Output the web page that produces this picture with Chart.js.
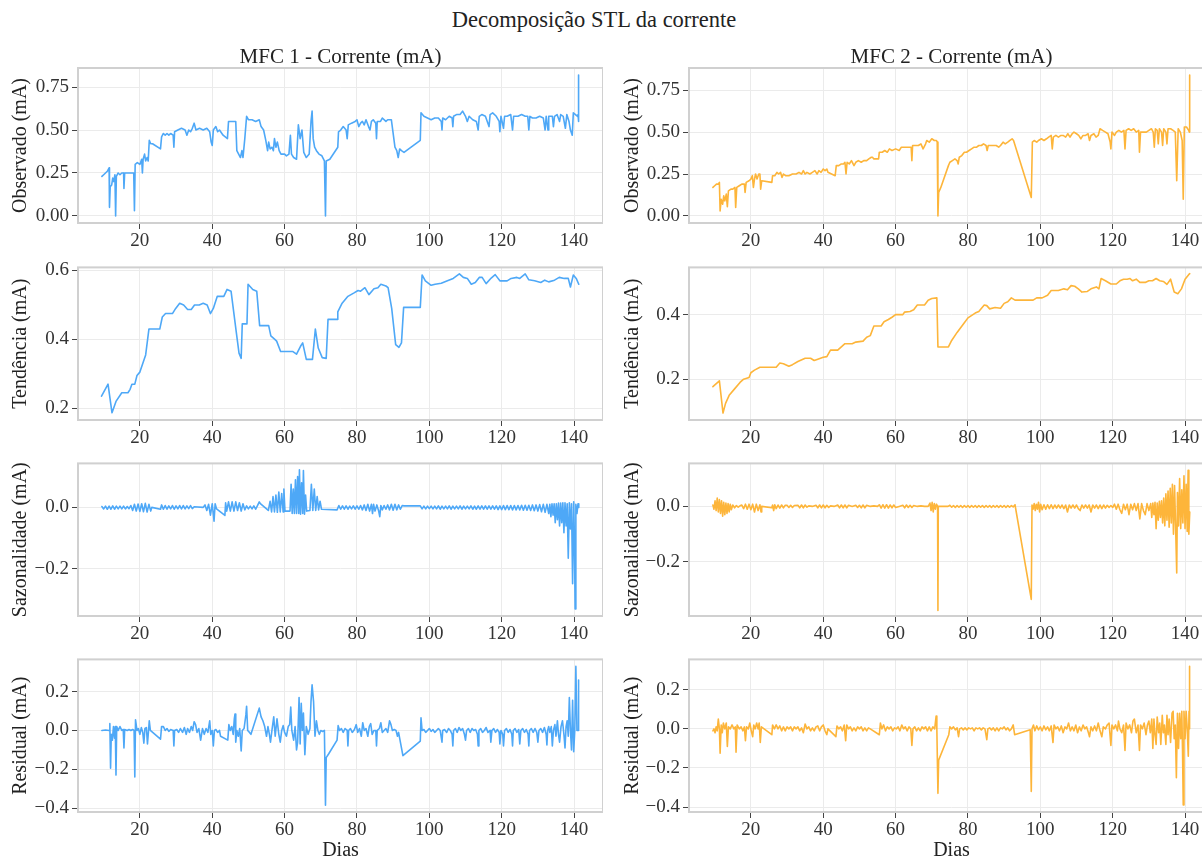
<!DOCTYPE html>
<html><head><meta charset="utf-8">
<script src="https://cdn.jsdelivr.net/npm/chart.js@4/dist/chart.umd.min.js"></script>
<style>
html,body{margin:0;padding:0;background:#fff;overflow:hidden;width:1202px;height:857px;position:relative}
#sup{position:absolute;left:0;top:7px;width:1188px;text-align:center;font-family:"Liberation Serif","Times New Roman",serif;font-size:22.5px;line-height:26px;color:#222}
</style></head><body>
<div id="sup">Decomposição STL da corrente</div>
<script>
// ---------------- DATA ----------------
const xTicks = [20, 40, 60, 80, 100, 120, 140];
const obsTicks = [0, 0.25, 0.5, 0.75];           const obsLabels = ['0.00', '0.25', '0.50', '0.75'];
const trend1Ticks = [0.2, 0.4, 0.6];              const trend1Labels = ['0.2', '0.4', '0.6'];
const trend2Ticks = [0.2, 0.4];                   const trend2Labels = ['0.2', '0.4'];
const seasTicks = [-0.2, 0.0];                    const seasLabels = ['\u22120.2', '0.0'];
const residTicks = [-0.4, -0.2, 0.0, 0.2];        const residLabels = ['\u22120.4', '\u22120.2', '0.0', '0.2'];
const panelTitles = ['MFC 1 - Corrente (mA)', 'MFC 2 - Corrente (mA)'];
const yTitles = ['Observado (mA)', 'Tendência (mA)', 'Sazonalidade (mA)', 'Residual (mA)'];
const xTitle = 'Dias';

// MFC 1 - observed [dia, mA]
const mfc1Obs = [[9.5,0.23],[10,0.24],[10.5,0.25],[11,0.26],[11.5,0.28],[11.6,0.05],[11.8,0.17],[12.2,0.18],[12.5,0.22],[12.8,0.20],[13.1,0.24],[13.3,0.0],[13.5,0.23],[14,0.25],[14.5,0.24],[15,0.25],[15.5,0.25],[15.6,0.16],[15.8,0.25],[16.5,0.25],[17.5,0.25],[18.3,0.25],[18.5,0.03],[18.7,0.30],[19.3,0.31],[20,0.30],[20.5,0.33],[20.7,0.25],[20.9,0.33],[21.3,0.36],[21.6,0.32],[22,0.34],[22.3,0.32],[22.6,0.44],[23,0.42],[23.5,0.42],[25.7,0.39],[26,0.46],[26.5,0.48],[27,0.47],[27.5,0.48],[28,0.47],[28.5,0.48],[29.2,0.47],[29.4,0.40],[29.6,0.49],[30.5,0.50],[31.5,0.51],[32.5,0.50],[33,0.47],[33.5,0.50],[34,0.49],[34.5,0.51],[35,0.54],[35.5,0.50],[36.5,0.51],[37.5,0.50],[38.5,0.51],[39.3,0.49],[39.7,0.43],[40,0.41],[40.3,0.50],[41,0.52],[41.5,0.49],[42,0.50],[43,0.47],[44.2,0.45],[44.5,0.55],[45.5,0.55],[46.5,0.55],[46.8,0.38],[47.3,0.36],[47.8,0.34],[48.2,0.38],[48.5,0.34],[49,0.45],[49.5,0.58],[50,0.56],[51,0.56],[52,0.55],[53,0.56],[53.5,0.52],[54.2,0.50],[54.8,0.44],[55.3,0.38],[55.6,0.43],[56,0.39],[56.5,0.40],[56.9,0.38],[57.2,0.45],[57.6,0.40],[58,0.43],[58.5,0.38],[59,0.36],[60,0.36],[60.5,0.35],[61.2,0.36],[61.6,0.47],[61.9,0.36],[62.5,0.34],[63.3,0.33],[63.8,0.53],[64.3,0.45],[64.8,0.50],[65.3,0.37],[66,0.34],[66.8,0.36],[67.3,0.55],[67.6,0.61],[67.9,0.45],[68.3,0.40],[68.8,0.38],[69.5,0.36],[70.3,0.35],[71,0.32],[71.3,0.0],[71.5,0.32],[72.5,0.33],[74.7,0.40],[74.9,0.49],[75.5,0.50],[76.2,0.52],[77,0.50],[77.3,0.45],[77.6,0.53],[78.5,0.54],[79.5,0.55],[80,0.56],[80.5,0.52],[81,0.54],[81.5,0.55],[82,0.53],[82.5,0.56],[83.2,0.52],[83.6,0.50],[84,0.55],[84.5,0.56],[85.2,0.54],[85.4,0.45],[85.6,0.55],[86.5,0.55],[87,0.57],[88,0.55],[88.5,0.56],[89.5,0.56],[90,0.48],[90.5,0.40],[91,0.38],[91.4,0.34],[91.8,0.39],[92.3,0.38],[93,0.37],[97.5,0.44],[97.7,0.60],[98.5,0.58],[99.5,0.57],[100.5,0.56],[101.5,0.57],[102.5,0.57],[103.3,0.55],[103.5,0.50],[103.7,0.57],[104.5,0.56],[105.5,0.58],[106.3,0.57],[106.5,0.52],[106.7,0.58],[107.5,0.59],[108.5,0.59],[109.2,0.61],[110,0.58],[110.5,0.55],[111,0.58],[112,0.56],[113,0.55],[113.5,0.50],[113.8,0.58],[114.5,0.59],[115.5,0.58],[116.5,0.52],[116.8,0.59],[117.5,0.60],[118.5,0.58],[119.3,0.55],[119.5,0.49],[119.8,0.58],[120.5,0.51],[120.8,0.58],[121.5,0.58],[122.5,0.59],[123,0.50],[123.3,0.58],[124.5,0.58],[125.5,0.59],[126.5,0.58],[127.2,0.58],[127.5,0.50],[127.8,0.58],[128.5,0.57],[129.5,0.57],[130.5,0.58],[131.5,0.57],[132,0.50],[132.3,0.58],[132.8,0.50],[133,0.58],[134,0.58],[134.3,0.52],[134.6,0.58],[135.3,0.59],[136,0.55],[136.3,0.59],[137,0.58],[137.6,0.51],[138,0.59],[138.6,0.55],[139,0.50],[139.5,0.47],[139.8,0.60],[140.4,0.59],[140.9,0.58],[141.1,0.59],[141.2,0.82],[141.3,0.55]];

// MFC 1 - trend
const mfc1Trend = [[9.4,0.235],[11.2,0.27],[12.3,0.187],[13.4,0.22],[15,0.245],[16.7,0.245],[17.3,0.255],[17.8,0.27],[18.6,0.27],[19.2,0.295],[20,0.305],[20.8,0.33],[21.6,0.355],[22.5,0.43],[25.5,0.43],[26.2,0.465],[27.1,0.475],[28,0.475],[29,0.475],[29.9,0.49],[31,0.505],[32.1,0.50],[33.2,0.487],[34.2,0.487],[35.1,0.50],[36.4,0.50],[37.5,0.505],[38.6,0.50],[39.5,0.475],[40.3,0.49],[41.4,0.525],[43.2,0.525],[44.1,0.545],[45.2,0.54],[46.6,0.425],[47.4,0.36],[48,0.345],[48.3,0.445],[49.6,0.445],[49.9,0.56],[51.2,0.545],[52.3,0.54],[53.1,0.44],[55.6,0.44],[56.2,0.41],[57.3,0.40],[57.8,0.395],[58.9,0.365],[62.2,0.365],[63.3,0.357],[64.4,0.38],[65,0.39],[66,0.342],[67.7,0.342],[68.5,0.43],[69.3,0.375],[70.4,0.347],[71.5,0.345],[72,0.458],[74.5,0.458],[74.7,0.48],[75.9,0.505],[77.5,0.525],[79.2,0.535],[80.3,0.542],[81,0.54],[82.2,0.55],[83.3,0.53],[84.7,0.547],[85.8,0.55],[86.6,0.56],[88,0.555],[88.6,0.55],[89.6,0.49],[90.7,0.385],[91.6,0.377],[92.3,0.39],[92.9,0.493],[97.5,0.493],[98,0.587],[98.9,0.57],[100.5,0.557],[101.6,0.56],[103.3,0.563],[105,0.57],[106.6,0.577],[108.3,0.59],[109.4,0.58],[110.5,0.577],[111.6,0.56],[112.7,0.565],[113.8,0.58],[114.6,0.58],[115.7,0.562],[117.1,0.578],[118.2,0.588],[119.5,0.57],[121.5,0.57],[122.6,0.577],[124.2,0.58],[125,0.577],[126.5,0.59],[127.5,0.573],[129.1,0.57],[130.8,0.565],[131.9,0.572],[133,0.567],[134.6,0.572],[135.9,0.58],[137.3,0.577],[138.4,0.577],[139,0.552],[139.8,0.587],[140.6,0.577],[141.3,0.56]];

// MFC 1 - seasonal
const mfc1Seas = [[9.5,0.003],[10,-0.005],[10.5,0.004],[11,-0.006],[11.5,0.004],[12,-0.006],[12.5,0.005],[13,-0.006],[13.5,0.004],[14,-0.005],[14.5,0.004],[15,-0.005],[15.5,0.004],[16,-0.005],[16.5,0.003],[17,-0.004],[17.5,0.006],[18,-0.010],[18.5,0.010],[19,-0.012],[19.5,0.011],[20,-0.013],[20.5,0.012],[21,-0.014],[21.5,0.013],[22,-0.015],[22.5,0.010],[23,-0.012],[23.3,0.0],[25.7,-0.006],[26,0.008],[26.5,-0.006],[27,0.006],[27.5,-0.006],[28,0.005],[28.5,-0.005],[29,0.006],[29.5,-0.006],[30,0.005],[30.5,-0.005],[31,0.006],[31.5,-0.005],[32,0.006],[32.5,-0.005],[33,0.005],[33.5,-0.004],[34,0.006],[34.5,-0.004],[35,0.002],[37.5,0.0],[38,0.008],[38.5,-0.010],[39,0.010],[39.5,-0.025],[40,0.012],[40.5,-0.045],[40.8,0.012],[41.2,-0.005],[43.5,-0.026],[43.7,0.015],[44,-0.012],[44.5,0.018],[45,-0.012],[45.5,0.018],[46,-0.012],[46.5,0.018],[47,-0.010],[47.5,0.015],[48,-0.012],[48.5,0.012],[49,-0.008],[49.5,0.005],[50,-0.005],[50.5,0.004],[51,-0.005],[51.5,0.005],[52,-0.006],[52.5,0.006],[53,0.018],[53.3,0.012],[55.5,-0.010],[56,0.02],[56.4,-0.015],[56.8,0.035],[57.2,-0.015],[57.6,0.04],[58,-0.016],[58.4,0.05],[58.8,-0.015],[59.2,0.045],[59.6,-0.015],[59.8,0.06],[60.1,-0.012],[61.5,-0.012],[61.8,0.075],[62.1,-0.02],[62.4,0.06],[62.7,-0.02],[63,0.09],[63.3,-0.02],[63.6,0.10],[63.9,-0.02],[64.1,0.122],[64.4,-0.022],[64.7,0.08],[65,-0.02],[65.2,0.12],[65.5,-0.022],[65.8,0.04],[66.1,-0.012],[67,-0.01],[67.4,0.075],[67.8,-0.01],[68.2,0.06],[68.6,-0.01],[69,0.035],[69.4,-0.008],[69.8,0.02],[70.2,-0.006],[74.5,-0.008],[75,0.006],[75.5,-0.006],[76,0.005],[76.5,-0.006],[77,0.005],[77.5,-0.006],[78,0.004],[78.5,-0.005],[79,0.005],[79.5,-0.006],[80,0.005],[80.5,-0.006],[81,0.006],[81.5,-0.008],[82,0.008],[82.5,-0.010],[83,0.010],[83.5,-0.012],[84,0.010],[84.3,-0.02],[84.6,0.010],[85,-0.012],[85.5,0.008],[86,-0.012],[86.3,-0.03],[86.6,0.006],[87,-0.008],[87.5,0.006],[88,-0.006],[88.5,0.008],[89,-0.008],[89.5,0.01],[90,-0.009],[90.5,0.01],[91,-0.008],[91.5,0.008],[92,-0.006],[92.5,0.006],[93,0.005],[97.5,0.005],[98,-0.005],[98.5,0.004],[99,-0.005],[99.5,0.004],[100,-0.004],[100.5,0.004],[101,-0.005],[101.5,0.004],[102,-0.005],[102.5,0.005],[103,-0.006],[103.5,0.004],[104,-0.005],[104.5,0.004],[105,-0.005],[105.5,0.005],[106,-0.006],[106.5,0.004],[107,-0.005],[107.5,0.004],[108,-0.005],[108.5,0.005],[109,-0.006],[109.5,0.004],[110,-0.005],[110.5,0.004],[111,-0.005],[111.5,0.005],[112,-0.006],[112.5,0.004],[113,-0.006],[113.5,0.005],[114,-0.006],[114.5,0.005],[115,-0.006],[115.5,0.005],[116,-0.006],[116.5,0.005],[117,-0.006],[117.5,0.005],[118,-0.006],[118.5,0.005],[119,-0.007],[119.5,0.005],[120,-0.007],[120.5,0.006],[121,-0.007],[121.5,0.006],[122,-0.007],[122.5,0.006],[123,-0.008],[123.5,0.006],[124,-0.008],[124.5,0.006],[125,-0.008],[125.5,0.007],[126,-0.009],[126.5,0.007],[127,-0.009],[127.5,0.007],[128,-0.01],[128.5,0.008],[129,-0.011],[129.5,0.008],[130,-0.012],[130.5,0.009],[131,-0.014],[131.5,0.01],[132,-0.016],[132.5,0.01],[133,-0.02],[133.3,0.01],[133.6,-0.03],[133.9,0.012],[134.2,-0.025],[134.5,0.012],[134.8,-0.05],[135.1,0.012],[135.4,-0.04],[135.7,0.014],[136,-0.06],[136.3,0.014],[136.6,-0.05],[136.9,0.015],[137.2,-0.082],[137.5,0.015],[137.8,-0.06],[138.1,0.012],[138.4,-0.165],[138.7,0.015],[139,-0.07],[139.3,0.012],[139.6,-0.248],[139.9,0.018],[140.1,-0.1],[140.3,-0.33],[140.5,0.01],[140.8,-0.02],[141.1,0.012],[141.3,0.0]];

// MFC 1 - residual
const mfc1Resid = [[9.5,0],[10.5,0.002],[11.5,0],[11.7,0.035],[11.9,-0.195],[12.1,-0.02],[12.4,-0.05],[12.7,0.02],[13,-0.04],[13.2,0.02],[13.4,-0.23],[13.6,0.02],[14,0.0],[14.5,0.02],[15,0.0],[15.4,0.005],[15.6,-0.09],[15.8,0.005],[16.5,0.0],[17,0.005],[17.5,0.0],[18,0.005],[18.4,0.0],[18.6,-0.24],[18.8,0.055],[19.2,0.0],[19.6,0.01],[20,-0.02],[20.4,0.015],[20.8,-0.01],[21.1,-0.065],[21.4,0.01],[21.8,0.015],[22.1,-0.07],[22.4,0.0],[22.6,0.05],[22.9,0.0],[25.7,-0.045],[26,0.02],[26.5,0.02],[27,0.0],[27.5,0.01],[28,-0.005],[28.5,0.005],[29.2,0.0],[29.4,-0.08],[29.6,0.0],[30.2,0.005],[30.7,-0.01],[31.2,0.01],[31.8,-0.01],[32.3,0.015],[32.8,-0.02],[33.2,0.01],[33.7,-0.01],[34.2,0.02],[34.6,0.0],[35,0.045],[35.4,0.03],[35.8,-0.01],[36.3,0.01],[36.8,-0.05],[37.3,0.01],[37.8,-0.02],[38.3,0.01],[38.8,-0.01],[39.3,0.05],[39.6,-0.02],[40,0.0],[40.3,-0.08],[40.6,0.0],[41,0.005],[41.5,-0.01],[42,0.0],[42.3,-0.03],[44.3,-0.05],[44.6,0.03],[45,0.0],[45.4,0.02],[45.8,-0.02],[46.1,0.06],[46.3,0.085],[46.5,-0.06],[46.8,0.0],[47.2,-0.03],[47.6,0.01],[48,-0.105],[48.3,0.0],[48.8,0.01],[49.3,0.08],[49.5,0.125],[49.8,0.0],[50.3,-0.01],[50.7,-0.02],[53,0.115],[53.5,0.07],[54,0.05],[54.5,0.02],[55,-0.03],[55.4,0.02],[55.8,-0.02],[56.1,-0.06],[56.5,0.0],[57,0.07],[57.4,-0.03],[57.9,0.06],[58.4,-0.02],[58.8,-0.06],[59.2,0.0],[59.6,0.025],[60,-0.01],[60.5,-0.03],[61,0.02],[61.4,0.03],[61.7,0.12],[62,0.0],[62.5,-0.05],[62.9,0.02],[63.3,-0.1],[63.6,-0.06],[64,0.17],[64.3,-0.07],[64.6,0.14],[64.9,0.0],[65.2,0.09],[65.6,-0.125],[66,0.02],[66.5,-0.02],[67,0.01],[67.3,0.15],[67.6,0.235],[68,0.15],[68.4,-0.03],[68.8,0.05],[69.2,0.0],[69.6,-0.02],[70,0.0],[70.5,-0.005],[71,0.0],[71.3,-0.385],[71.5,-0.14],[72.2,-0.12],[74.5,-0.05],[74.8,0.025],[75.2,0.0],[75.7,0.01],[76.2,-0.01],[76.7,0.01],[77.3,0.0],[77.5,-0.08],[77.7,0.0],[78.2,0.01],[78.7,-0.01],[79.3,0.005],[79.8,0.03],[80.2,-0.01],[80.7,0.01],[81.2,-0.03],[81.6,0.04],[82,0.0],[82.5,0.01],[83,-0.03],[83.4,0.02],[83.8,0.035],[84.2,-0.02],[84.7,0.0],[85.2,0.0],[85.4,-0.08],[85.6,0.0],[86.2,0.01],[86.6,0.04],[87,-0.01],[87.5,0.0],[88,0.01],[88.5,-0.01],[89,0.05],[89.4,0.03],[89.8,0.0],[90.3,0.005],[90.8,0.0],[91.2,-0.03],[91.5,-0.01],[92.7,-0.13],[97.5,-0.055],[97.7,0.065],[98,0.0],[98.5,0.005],[99,-0.01],[99.5,0.0],[100,0.01],[100.5,-0.005],[101,0.005],[101.5,-0.01],[102,0.0],[102.5,0.01],[103,0.0],[103.5,-0.06],[103.7,0.0],[104.2,0.005],[104.8,-0.01],[105.3,0.01],[105.8,0.0],[106.3,-0.02],[106.5,-0.08],[106.7,0.0],[107.2,0.01],[107.7,-0.01],[108.2,0.015],[108.7,0.0],[109.2,0.01],[109.7,-0.02],[110,-0.05],[110.3,0.0],[110.8,0.01],[111.3,-0.01],[111.8,0.01],[112.3,0.0],[112.8,0.005],[113.3,-0.02],[113.5,-0.08],[113.7,0.0],[114.2,0.01],[114.7,-0.01],[115.2,0.0],[115.7,0.015],[116.2,-0.01],[116.8,0.0],[117,-0.06],[117.3,0.0],[117.8,0.01],[118.3,-0.01],[118.8,0.005],[119.3,-0.01],[119.5,-0.07],[119.8,0.0],[120.3,-0.02],[120.5,-0.08],[120.8,0.0],[121.3,0.01],[121.8,-0.01],[122.3,0.005],[122.8,-0.02],[123,-0.08],[123.2,0.0],[123.7,0.01],[124.2,-0.01],[124.7,0.005],[125,-0.07],[125.3,0.0],[125.8,0.01],[126.3,-0.01],[126.8,0.005],[127.3,-0.02],[127.5,-0.08],[127.7,0.0],[128.2,0.01],[128.7,-0.01],[129.2,0.01],[129.7,-0.01],[130,-0.06],[130.3,0.0],[130.8,0.01],[131.3,-0.01],[131.8,0.015],[132.3,-0.02],[132.5,-0.075],[132.7,0.0],[133,0.02],[133.3,-0.01],[133.7,0.02],[134,-0.08],[134.3,0.0],[134.7,0.03],[135,-0.03],[135.4,0.05],[135.7,-0.02],[136,-0.06],[136.4,0.02],[136.8,0.05],[137.2,-0.02],[137.5,-0.09],[137.8,0.02],[138.1,0.05],[138.4,-0.03],[138.7,0.17],[139,0.0],[139.3,-0.1],[139.6,0.155],[139.9,-0.11],[140.2,0.0],[140.5,0.33],[140.8,0.0],[141.1,0.0],[141.2,0.26],[141.3,0.0]];

// MFC 2 - observed
const mfc2Obs = [[9.5,0.17],[10,0.18],[10.5,0.19],[11,0.19],[11.3,0.20],[11.5,0.03],[11.8,0.10],[12.2,0.07],[12.5,0.12],[12.8,0.09],[13.2,0.13],[13.5,0.055],[13.8,0.15],[14.5,0.16],[15,0.16],[15.6,0.17],[15.8,0.05],[16.1,0.17],[16.8,0.18],[17.5,0.19],[18.2,0.19],[18.4,0.14],[18.7,0.20],[19.5,0.21],[20,0.22],[20.4,0.24],[20.7,0.17],[21,0.22],[21.3,0.25],[21.7,0.22],[22.2,0.25],[22.5,0.25],[22.7,0.16],[23,0.21],[25.8,0.20],[26,0.24],[26.6,0.24],[27.2,0.26],[27.7,0.25],[28.2,0.26],[28.6,0.23],[29,0.25],[29.6,0.24],[30.5,0.24],[31.5,0.25],[32.5,0.25],[33.3,0.26],[34,0.25],[34.5,0.27],[35,0.25],[35.5,0.26],[36.3,0.25],[37,0.26],[37.7,0.27],[38.3,0.25],[38.8,0.27],[39.4,0.26],[40,0.28],[40.5,0.27],[41,0.28],[41.3,0.26],[43.3,0.24],[43.6,0.30],[44.3,0.30],[45,0.31],[45.6,0.31],[46,0.32],[46.3,0.25],[46.6,0.32],[47.2,0.31],[47.8,0.33],[48.5,0.30],[49,0.32],[49.7,0.33],[50.5,0.32],[51.2,0.33],[52,0.33],[52.6,0.34],[53.3,0.35],[53.6,0.35],[54,0.34],[55.3,0.34],[55.5,0.38],[56.3,0.38],[57,0.39],[57.7,0.38],[58.3,0.40],[59,0.39],[60,0.40],[61,0.39],[61.6,0.41],[62.5,0.41],[63.5,0.41],[64.3,0.41],[64.5,0.33],[64.7,0.42],[65.5,0.42],[66.3,0.42],[67,0.43],[67.6,0.40],[68.3,0.43],[68.6,0.45],[69.3,0.44],[70,0.46],[70.7,0.45],[71.3,0.45],[71.5,0.44],[71.7,0.0],[71.9,0.14],[72.5,0.17],[74.6,0.30],[75,0.32],[75.7,0.33],[76.4,0.34],[77,0.33],[77.3,0.31],[77.6,0.35],[78.3,0.36],[79,0.38],[79.6,0.38],[80.3,0.39],[81,0.40],[81.7,0.41],[82.4,0.41],[83,0.42],[83.7,0.42],[84.3,0.43],[85,0.42],[85.3,0.39],[85.6,0.42],[86.3,0.42],[87,0.42],[87.8,0.42],[88.5,0.41],[89,0.42],[89.7,0.44],[90.3,0.43],[91,0.44],[91.6,0.45],[92.2,0.46],[92.6,0.45],[97.5,0.11],[97.8,0.44],[98.3,0.45],[99,0.44],[99.5,0.45],[100.3,0.46],[101,0.45],[101.7,0.46],[102.3,0.47],[103,0.48],[103.3,0.40],[103.6,0.47],[104.3,0.48],[105,0.47],[105.7,0.48],[106.3,0.48],[107,0.47],[107.6,0.49],[108.2,0.47],[108.8,0.49],[109.3,0.50],[110,0.49],[110.6,0.48],[111.2,0.46],[111.8,0.48],[112.5,0.48],[113.2,0.49],[113.6,0.45],[114,0.48],[114.8,0.49],[115.4,0.47],[116,0.48],[116.5,0.52],[117.2,0.51],[118,0.50],[118.7,0.49],[119.3,0.44],[119.5,0.40],[119.8,0.50],[120.5,0.48],[121,0.50],[121.7,0.51],[122.4,0.50],[123.1,0.51],[123.4,0.40],[123.7,0.51],[124.4,0.52],[125.1,0.51],[125.8,0.52],[126.5,0.50],[127.2,0.51],[127.4,0.38],[127.7,0.50],[128.5,0.50],[129.3,0.50],[130,0.51],[130.7,0.52],[131.2,0.50],[131.5,0.41],[131.8,0.52],[132.3,0.51],[132.6,0.43],[132.9,0.52],[133.5,0.50],[133.8,0.42],[134.1,0.52],[134.7,0.50],[135,0.43],[135.3,0.52],[136,0.52],[136.7,0.51],[137.3,0.50],[137.7,0.21],[138.1,0.52],[138.7,0.50],[139.2,0.45],[139.5,0.10],[139.8,0.53],[140.4,0.53],[141,0.51],[141.2,0.50],[141.25,0.84],[141.3,0.50]];

// MFC 2 - trend
const mfc2Trend = [[9.5,0.177],[11.3,0.195],[12.3,0.095],[13,0.125],[14,0.15],[15.5,0.17],[17,0.19],[18,0.20],[19.5,0.205],[20,0.22],[21,0.228],[22.5,0.237],[27,0.237],[28,0.25],[29,0.248],[30.5,0.24],[31.5,0.245],[33,0.255],[35,0.265],[36.5,0.265],[37.5,0.258],[38.5,0.262],[40,0.268],[41,0.27],[42,0.29],[44,0.29],[45,0.30],[46,0.31],[48,0.31],[49,0.315],[51,0.318],[52,0.33],[53,0.335],[54,0.365],[56,0.365],[56.8,0.378],[58,0.385],[59,0.392],[60,0.40],[62,0.40],[62.5,0.408],[64,0.41],[65,0.415],[66,0.43],[68,0.43],[69,0.445],[70,0.45],[71.4,0.452],[71.7,0.30],[74.6,0.30],[75.5,0.32],[77,0.345],[79,0.375],[80,0.39],[82,0.405],[83,0.41],[84.5,0.43],[85.2,0.428],[86,0.418],[87.5,0.422],[89,0.42],[90,0.435],[91,0.44],[92,0.452],[93,0.445],[98,0.445],[99,0.452],[100.5,0.452],[102,0.46],[103,0.475],[105,0.475],[106.5,0.48],[107.5,0.477],[108.5,0.49],[109.5,0.488],[110.5,0.48],[111.5,0.47],[113,0.472],[114,0.48],[115.5,0.486],[116.2,0.48],[116.8,0.512],[118,0.505],[119.5,0.495],[121,0.495],[122,0.505],[123,0.51],[124,0.51],[124.8,0.512],[125.5,0.505],[126.5,0.51],[127.5,0.50],[129,0.50],[130,0.505],[131,0.505],[132,0.512],[133,0.505],[134,0.503],[135,0.494],[136,0.51],[137,0.47],[138,0.465],[139,0.48],[140,0.51],[141,0.524],[141.3,0.527]];

// MFC 2 - seasonal
const mfc2Seas = [[9.5,0.005],[9.8,-0.01],[10.1,0.02],[10.4,-0.015],[10.7,0.03],[11,-0.02],[11.3,0.025],[11.6,-0.025],[11.9,0.02],[12.2,-0.035],[12.5,0.015],[12.8,-0.03],[13.1,0.012],[13.4,-0.025],[13.7,0.01],[14,-0.02],[14.3,0.008],[14.6,-0.012],[15,0.005],[15.5,-0.005],[16,0.003],[16.5,-0.003],[17,0.002],[17.5,0.005],[18,-0.008],[18.5,0.008],[19,-0.01],[19.5,0.008],[20,-0.012],[20.5,0.008],[21,-0.02],[21.5,0.008],[22,-0.015],[22.5,0.006],[22.8,-0.02],[23,0.0],[25.8,-0.005],[26,0.005],[26.3,-0.015],[26.6,0.006],[27,-0.008],[27.5,0.005],[28,-0.006],[28.5,0.005],[29,-0.005],[29.5,0.004],[30,0.004],[30.5,-0.004],[31,0.004],[31.5,-0.004],[32,0.003],[33,0.004],[33.5,-0.005],[34,0.005],[34.5,-0.005],[35,0.005],[35.5,-0.003],[36,0.002],[37,0.0],[38,0.004],[38.5,-0.005],[39,0.005],[39.5,-0.005],[40,0.005],[40.5,-0.005],[41,0.004],[41.5,-0.004],[42,0.002],[43,0.0],[44,0.005],[44.5,-0.005],[45,0.005],[45.5,-0.005],[46,0.005],[46.5,-0.005],[47,0.004],[48,0.0],[49,0.004],[49.5,-0.004],[50,0.004],[50.5,-0.005],[51,0.005],[51.5,-0.005],[52,0.004],[53,0.0],[54,0.002],[55,0.0],[55.5,0.006],[56,-0.006],[56.5,0.006],[57,-0.006],[57.5,0.006],[58,-0.006],[58.5,0.005],[59,-0.005],[59.5,0.005],[60,-0.004],[61,0.0],[62,0.004],[62.5,-0.005],[63,0.005],[63.5,-0.004],[64,0.004],[64.5,-0.004],[65,0.003],[66,0.0],[67,0.002],[68,0.0],[69,0.0],[69.5,0.012],[69.8,-0.015],[70.1,0.015],[70.4,-0.02],[70.7,0.01],[71,-0.01],[71.3,0.008],[71.6,0.0],[71.7,-0.375],[71.8,0.0],[74.5,0.0],[75,0.004],[75.5,-0.003],[76,0.003],[76.5,-0.004],[77,0.003],[77.5,-0.003],[78,0.003],[78.5,-0.004],[79,0.003],[79.5,-0.003],[80,0.003],[80.5,-0.004],[81,0.003],[81.5,-0.003],[82,0.003],[82.5,-0.004],[83,0.003],[83.5,-0.003],[84,0.003],[84.5,-0.004],[85,0.003],[85.5,-0.003],[86,0.003],[86.5,-0.004],[87,0.003],[87.5,-0.003],[88,0.003],[88.5,-0.004],[89,0.003],[89.5,-0.003],[90,0.003],[90.5,-0.004],[91,0.003],[91.5,-0.003],[92,0.003],[92.5,-0.002],[93,0.006],[97.5,-0.335],[97.7,0.005],[98,-0.01],[98.3,0.01],[98.6,-0.015],[98.9,0.008],[99.2,-0.01],[99.5,0.015],[99.8,-0.02],[100.1,0.008],[100.5,-0.012],[101,0.006],[101.5,-0.01],[102,0.006],[102.5,-0.008],[103,0.006],[103.5,-0.008],[104,0.005],[104.5,-0.006],[105,0.005],[105.5,-0.006],[106,0.005],[106.5,-0.008],[107,0.005],[107.5,-0.02],[108,0.005],[108.5,-0.006],[109,0.005],[109.5,-0.006],[110,0.005],[110.5,-0.008],[111,-0.015],[111.5,0.005],[112,-0.006],[112.5,0.005],[113,-0.006],[113.5,0.005],[114,-0.02],[114.5,0.005],[115,-0.006],[115.5,0.005],[116,-0.008],[116.5,0.005],[117,-0.008],[117.5,0.005],[118,-0.006],[118.5,0.004],[119,-0.004],[119.5,0.003],[120,-0.004],[120.5,0.008],[121,-0.01],[121.5,0.008],[122,-0.012],[122.5,-0.025],[123,0.008],[123.5,-0.012],[124,0.008],[124.5,-0.03],[125,0.008],[125.5,-0.012],[126,0.01],[126.5,-0.015],[127,0.01],[127.5,-0.045],[128,0.01],[128.5,-0.015],[129,-0.03],[129.5,0.01],[130,-0.015],[130.5,0.01],[130.8,-0.04],[131.1,0.012],[131.4,-0.03],[131.7,0.015],[132,-0.08],[132.3,0.012],[132.6,-0.05],[132.9,0.018],[133.2,-0.04],[133.5,0.02],[133.8,-0.06],[134.1,0.03],[134.4,-0.07],[134.7,0.045],[135,-0.05],[135.3,0.055],[135.6,-0.075],[135.9,0.065],[136.2,-0.06],[136.5,0.08],[136.8,-0.1],[137.1,0.075],[137.4,-0.08],[137.7,-0.24],[137.9,0.05],[138.2,-0.07],[138.5,0.1],[138.8,-0.08],[139.1,0.06],[139.4,-0.06],[139.7,0.11],[140,-0.08],[140.3,0.08],[140.6,-0.09],[140.85,0.13],[141.05,-0.1],[141.3,-0.02]];

// MFC 2 - residual
const mfc2Resid = [[9.5,-0.01],[9.8,0.0],[10.1,-0.02],[10.4,0.01],[10.7,-0.01],[11,0.05],[11.3,0.0],[11.5,-0.125],[11.8,0.02],[12.1,-0.02],[12.4,0.03],[12.8,0.0],[13.2,0.03],[13.5,-0.09],[13.8,0.01],[14.3,0.0],[14.8,0.02],[15.3,0.0],[15.7,0.01],[15.9,-0.12],[16.2,0.02],[16.8,0.0],[17.3,0.01],[17.8,-0.01],[18.2,0.01],[18.5,-0.06],[18.8,0.01],[19.3,0.0],[19.7,0.03],[20.1,-0.01],[20.5,-0.04],[20.8,0.02],[21.2,0.0],[21.6,0.03],[22,0.0],[22.3,0.03],[22.6,-0.07],[22.9,0.01],[25.8,-0.03],[26,0.02],[26.5,0.0],[27,0.02],[27.5,0.0],[28,0.015],[28.5,-0.01],[29,0.01],[29.5,-0.01],[30,0.01],[30.5,0.0],[31,0.01],[31.5,-0.01],[32,0.01],[32.5,0.0],[33,0.01],[33.5,-0.01],[34,0.005],[34.5,-0.02],[35,0.025],[35.5,0.0],[36,0.01],[36.5,-0.01],[37,0.005],[37.5,-0.01],[38,0.01],[38.5,0.015],[39,-0.01],[39.5,0.01],[40,0.02],[40.5,-0.01],[41,-0.03],[41.3,0.0],[43.5,-0.04],[43.8,0.015],[44.3,0.0],[44.8,0.01],[45.3,-0.01],[45.8,0.02],[46.2,-0.06],[46.5,0.02],[47,0.0],[47.5,0.01],[48,-0.01],[48.5,0.005],[49,-0.01],[49.5,0.01],[50,0.0],[50.5,0.01],[51,-0.01],[51.5,0.005],[52,-0.01],[52.5,0.005],[53,0.0],[55.5,-0.03],[55.8,0.03],[56.2,0.0],[56.7,0.02],[57.2,-0.01],[57.7,0.01],[58.2,0.0],[58.7,0.01],[59.2,-0.01],[59.7,0.005],[60.2,0.0],[60.7,0.01],[61.2,-0.01],[61.7,0.02],[62.2,0.0],[62.7,0.01],[63.2,-0.01],[63.7,0.01],[64.2,0.0],[64.5,-0.085],[64.8,0.0],[65.3,0.01],[65.8,-0.01],[66.3,0.005],[66.8,-0.01],[67.3,0.01],[67.8,0.0],[68.3,0.01],[68.8,-0.01],[69.3,0.01],[69.8,-0.01],[70.3,0.01],[70.8,0.0],[71.2,0.065],[71.4,0.0],[71.7,-0.33],[71.9,-0.16],[74.7,-0.03],[75,0.01],[75.5,0.0],[76,0.01],[76.5,-0.005],[77,0.005],[77.4,-0.04],[77.7,0.0],[78.2,0.005],[78.7,-0.005],[79.2,0.005],[79.7,-0.005],[80.2,0.005],[80.7,0.0],[81.2,0.005],[81.7,-0.01],[82.2,0.005],[82.7,0.0],[83.2,0.005],[83.7,-0.005],[84.2,0.005],[84.7,0.0],[85.2,-0.055],[85.5,0.0],[86,0.005],[86.5,-0.005],[87,0.005],[87.5,-0.01],[88,0.005],[88.5,-0.01],[89,0.005],[89.5,0.0],[90,0.01],[90.5,-0.005],[91,0.005],[91.5,-0.01],[92,0.0],[92.5,0.02],[92.9,-0.03],[97.2,-0.005],[97.5,-0.32],[97.7,0.0],[98.1,0.02],[98.5,-0.01],[99,0.015],[99.5,-0.005],[100,0.01],[100.5,-0.01],[101,0.015],[101.5,-0.005],[102,0.01],[102.5,-0.01],[103,0.015],[103.5,-0.07],[103.8,0.02],[104.3,0.0],[104.8,0.01],[105.3,-0.01],[105.8,0.015],[106.3,-0.02],[106.8,0.01],[107.3,0.0],[107.8,0.03],[108.3,-0.01],[108.8,0.01],[109.3,-0.01],[109.8,0.02],[110.3,-0.02],[110.8,0.01],[111.3,-0.01],[111.8,0.02],[112.3,0.0],[112.8,0.01],[113.3,-0.02],[113.6,-0.04],[114,0.01],[114.5,-0.01],[115,0.015],[115.5,-0.01],[116,0.03],[116.5,-0.01],[117,-0.04],[117.4,0.01],[118,0.0],[118.5,0.02],[119,0.03],[119.5,-0.085],[119.8,0.02],[120.3,0.0],[120.8,0.02],[121.3,-0.01],[121.6,0.04],[122,0.0],[122.5,-0.02],[123,0.02],[123.4,-0.11],[123.7,0.03],[124.2,0.0],[124.7,0.02],[125.2,-0.02],[125.6,0.04],[126,0.05],[126.5,-0.02],[127,0.02],[127.4,-0.11],[127.7,0.02],[128.2,0.0],[128.7,0.03],[129.2,-0.03],[129.6,0.02],[130,0.04],[130.4,-0.02],[130.8,0.05],[131.1,-0.1],[131.4,0.05],[131.7,-0.03],[132,-0.08],[132.3,0.06],[132.7,-0.02],[133,0.03],[133.3,-0.08],[133.7,0.07],[134,-0.02],[134.3,0.02],[134.7,-0.08],[135,0.07],[135.3,-0.03],[135.6,0.05],[136,-0.07],[136.4,0.08],[136.7,0.09],[137,-0.05],[137.3,0.02],[137.6,-0.25],[137.9,0.08],[138.2,-0.1],[138.5,0.08],[138.8,-0.05],[139.1,0.09],[139.3,-0.11],[139.5,-0.39],[139.7,0.09],[140,-0.05],[140.3,0.09],[140.6,0.0],[140.9,-0.14],[141.1,0.09],[141.2,0.32],[141.3,0.0]];

// ---------------- LAYOUT / STYLE ----------------
const FONT = '"Liberation Serif", "Times New Roman", serif';
const COLORS = ['#4ea8f7', '#fdb53a'];
const X_MIN = 2.9, X_MAX = 148.0;
const COL_LEFT = [78, 689], AREA_W = 525, YAX_W = [78, 77];
const ROW_TOP = [68, 265, 461, 657], AREA_H = 155;

const boxPlugin = {
  id: 'box',
  afterDatasetsDraw(chart) {
    const {ctx, chartArea: a} = chart;
    ctx.save();
    ctx.strokeStyle = '#d0d0d0';
    ctx.lineWidth = 2;
    ctx.strokeRect(a.left, a.top, a.right - a.left, a.bottom - a.top);
    ctx.restore();
  }
};

const panels = [
  {col:0,row:0,data:mfc1Obs,  yMin:-0.041,yMax:0.861, ticks:obsTicks,   labels:obsLabels},
  {col:0,row:1,data:mfc1Trend,yMin:0.166, yMax:0.609, ticks:trend1Ticks,labels:trend1Labels},
  {col:0,row:2,data:mfc1Seas, yMin:-0.353,yMax:0.143, ticks:seasTicks,  labels:seasLabels},
  {col:0,row:3,data:mfc1Resid,yMin:-0.42, yMax:0.366, ticks:residTicks, labels:residLabels},
  {col:1,row:0,data:mfc2Obs,  yMin:-0.042,yMax:0.882, ticks:obsTicks,   labels:obsLabels},
  {col:1,row:1,data:mfc2Trend,yMin:0.0735,yMax:0.5465,ticks:trend2Ticks,labels:trend2Labels},
  {col:1,row:2,data:mfc2Seas, yMin:-0.395,yMax:0.155, ticks:seasTicks,  labels:seasLabels},
  {col:1,row:3,data:mfc2Resid,yMin:-0.4255,yMax:0.3555,ticks:residTicks,labels:residLabels}
];

panels.forEach(p => {
  const top = p.row === 0 ? 38 : ROW_TOP[p.row] - 12;
  const extraTop = ROW_TOP[p.row] - top;
  const xH = p.row === 3 ? 51 : 30;
  const w = YAX_W[p.col] + AREA_W, h = extraTop + AREA_H + xH;
  const cv = document.createElement('canvas');
  cv.width = w; cv.height = h;
  cv.style.cssText = `position:absolute;left:${COL_LEFT[p.col] - YAX_W[p.col]}px;top:${top}px;width:${w}px;height:${h}px`;
  document.body.appendChild(cv);
  new Chart(cv, {
    type: 'line',
    data: {datasets: [{data: p.data, borderColor: COLORS[p.col], borderWidth: 1.6, pointRadius: 0,
      tension: 0, fill: false, borderJoinStyle: 'round', borderCapStyle: 'round'}]},
    options: {
      responsive: false, animation: false, devicePixelRatio: 1,
      layout: {padding: {top: p.row === 0 ? 0 : 12, left: 0, right: 0, bottom: 0}},
      plugins: {
        legend: {display: false}, tooltip: {enabled: false},
        title: {display: p.row === 0, text: panelTitles[p.col], color: '#222', fullSize: false,
          font: {family: FONT, size: 21, weight: 'normal', lineHeight: 1}, padding: {top: 9, bottom: 0}}
      },
      scales: {
        x: {
          type: 'linear', min: X_MIN, max: X_MAX,
          afterFit(s) { s.height = xH; },
          afterBuildTicks(s) { s.ticks = xTicks.map(v => ({value: v})); },
          ticks: {font: {family: FONT, size: 19}, color: '#333', padding: 1, maxRotation: 0, autoSkip: false,
            callback: v => String(v)},
          grid: {color: '#ebebeb', lineWidth: 1, tickColor: '#444', tickLength: 6, tickWidth: 1},
          border: {display: false},
          title: {display: p.row === 3, text: xTitle, color: '#222', font: {family: FONT, size: 20},
            padding: {top: 0, bottom: 0}}
        },
        y: {
          type: 'linear', min: p.yMin, max: p.yMax,
          afterFit(s) { s.width = YAX_W[p.col]; },
          afterBuildTicks(s) { s.ticks = p.ticks.map(v => ({value: v})); },
          ticks: {font: {family: FONT, size: 19}, color: '#333', padding: 3, autoSkip: false,
            callback: (v, i) => p.labels[i]},
          grid: {color: '#ebebeb', lineWidth: 1, tickColor: '#444', tickLength: 6, tickWidth: 1},
          border: {display: false},
          title: {display: true, text: yTitles[p.row], color: '#222', font: {family: FONT, size: 20},
            padding: {top: 9, bottom: 0}}
        }
      }
    },
    plugins: [boxPlugin]
  });
});
</script>
</body></html>
